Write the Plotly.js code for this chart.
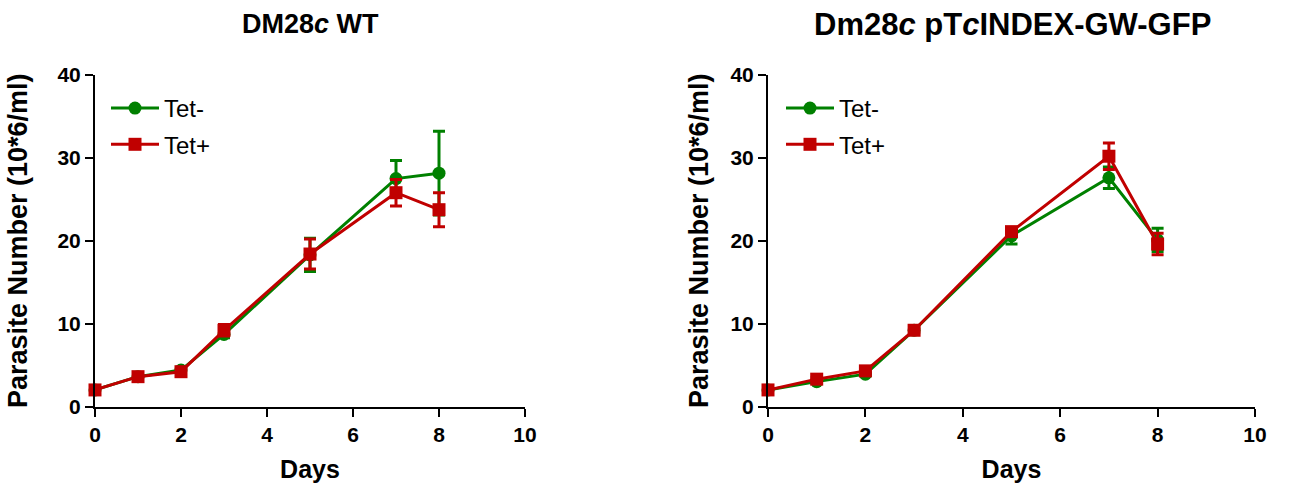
<!DOCTYPE html>
<html>
<head>
<meta charset="utf-8">
<script src="https://cdn.plot.ly/plotly-3.0.1.min.js"></script>
<style>html,body{margin:0;padding:0;background:#fff;}#chart{width:1292px;height:490px;}</style>
</head>
<body>
<div id="chart"></div>
<script>
// ---- data ----
const days = [0, 1, 2, 3, 5, 7, 8];
const seriesNames = ["Tet-", "Tet+"];
const panelTitles = ["DM28<i>c</i> WT", "Dm28<i>c</i> pT<i>c</i>INDEX-GW-GFP"];

// Panel 1: DM28c WT
const wtTetMinus = [2.0, 3.6, 4.4, 8.7, 18.3, 27.5, 28.15];
const wtTetMinusErr = [0.1, 0.2, 0.3, 0.4, 2.0, 2.2, 5.05];
const wtTetPlus = [2.0, 3.6, 4.2, 9.2, 18.4, 25.8, 23.75];
const wtTetPlusErr = [0.1, 0.3, 0.2, 0.7, 1.8, 1.6, 2.05];

// Panel 2: Dm28c pTcINDEX-GW-GFP
const gfpTetMinus = [2.0, 3.0, 3.9, 9.2, 20.6, 27.6, 20.1];
const gfpTetMinusErr = [0.1, 0.2, 0.2, 0.3, 1.0, 1.3, 1.4];
const gfpTetPlus = [2.0, 3.3, 4.3, 9.2, 21.1, 30.2, 19.6];
const gfpTetPlusErr = [0.1, 0.2, 0.2, 0.3, 0.5, 1.6, 1.3];

const xTicks = [0, 2, 4, 6, 8, 10];
const yTicks = [0, 10, 20, 30, 40];

// ---- style ----
const GREEN = "#008000";
const RED = "#C00000";
const FONT = "Liberation Sans, Arial, sans-serif";

function trace(y, err, name, color, symbol, xa, ya, legend) {
  return {
    x: days, y: y, name: name, type: "scatter", mode: "lines+markers",
    xaxis: xa, yaxis: ya, legend: legend, legendgroup: legend + name,
    line: {color: color, width: 3},
    marker: {color: color, symbol: symbol, size: 13},
    error_y: {type: "data", array: err, visible: true, color: color, thickness: 3, width: 6},
    cliponaxis: false
  };
}

const data = [
  trace(wtTetMinus, wtTetMinusErr, seriesNames[0], GREEN, "circle", "x", "y", "legend"),
  trace(wtTetPlus, wtTetPlusErr, seriesNames[1], RED, "square", "x", "y", "legend"),
  trace(gfpTetMinus, gfpTetMinusErr, seriesNames[0], GREEN, "circle", "x2", "y2", "legend2"),
  trace(gfpTetPlus, gfpTetPlusErr, seriesNames[1], RED, "square", "x2", "y2", "legend2")
];

function xax(domain, anchor) {
  return {
    domain: domain, anchor: anchor, range: [0, 10], tickvals: xTicks,
    showgrid: false, zeroline: false, showline: true, linecolor: "#000", linewidth: 2,
    ticks: "outside", ticklen: 8, tickwidth: 2, tickcolor: "#000",
    tickfont: {family: FONT, size: 21, color: "#000", weight: "bold"},
    title: {text: "Days", font: {family: FONT, size: 25, color: "#000", weight: "bold"}, standoff: 16},
    automargin: false, fixedrange: true
  };
}
function yax(anchor, standoff) {
  return {
    domain: [0.1704, 0.8469], anchor: anchor, range: [0, 40], tickvals: yTicks,
    showgrid: false, zeroline: false, showline: true, linecolor: "#000", linewidth: 2,
    ticks: "outside", ticklen: 8, tickwidth: 2, tickcolor: "#000",
    tickfont: {family: FONT, size: 21, color: "#000", weight: "bold"},
    title: {text: "Parasite Number (10*6/ml)", font: {family: FONT, size: 27, color: "#000", weight: "bold"}, standoff: standoff},
    automargin: false, fixedrange: true
  };
}

function legendCfg(xpx) {
  return {
    x: xpx / 1292, xanchor: "left", y: 1 - 86 / 490, yanchor: "top",
    bgcolor: "rgba(0,0,0,0)", borderwidth: 0,
    font: {family: FONT, size: 24, color: "#000"},
    tracegroupgap: 2, itemwidth: 48
  };
}

const layout = {
  width: 1292, height: 490,
  margin: {l: 0, r: 0, t: 0, b: 0},
  paper_bgcolor: "#fff", plot_bgcolor: "#fff",
  showlegend: true,
  xaxis: xax([95 / 1292, 525 / 1292], "y"),
  yaxis: yax("x", 22),
  xaxis2: xax([768 / 1292, 1255 / 1292], "y2"),
  yaxis2: yax("x2", 14),
  legend: legendCfg(106),
  legend2: legendCfg(781),
  annotations: [
    {text: panelTitles[0], xref: "paper", yref: "paper", x: 310 / 1292, y: 1 - 24 / 490,
     xanchor: "center", yanchor: "middle", showarrow: false,
     font: {family: FONT, size: 27, color: "#000", weight: "bold"}},
    {text: panelTitles[1], xref: "paper", yref: "paper", x: 1013 / 1292, y: 1 - 24 / 490,
     xanchor: "center", yanchor: "middle", showarrow: false,
     font: {family: FONT, size: 31, color: "#000", weight: "bold"}}
  ]
};

Plotly.newPlot("chart", data, layout, {displayModeBar: false, staticPlot: true});
</script>
</body>
</html>
